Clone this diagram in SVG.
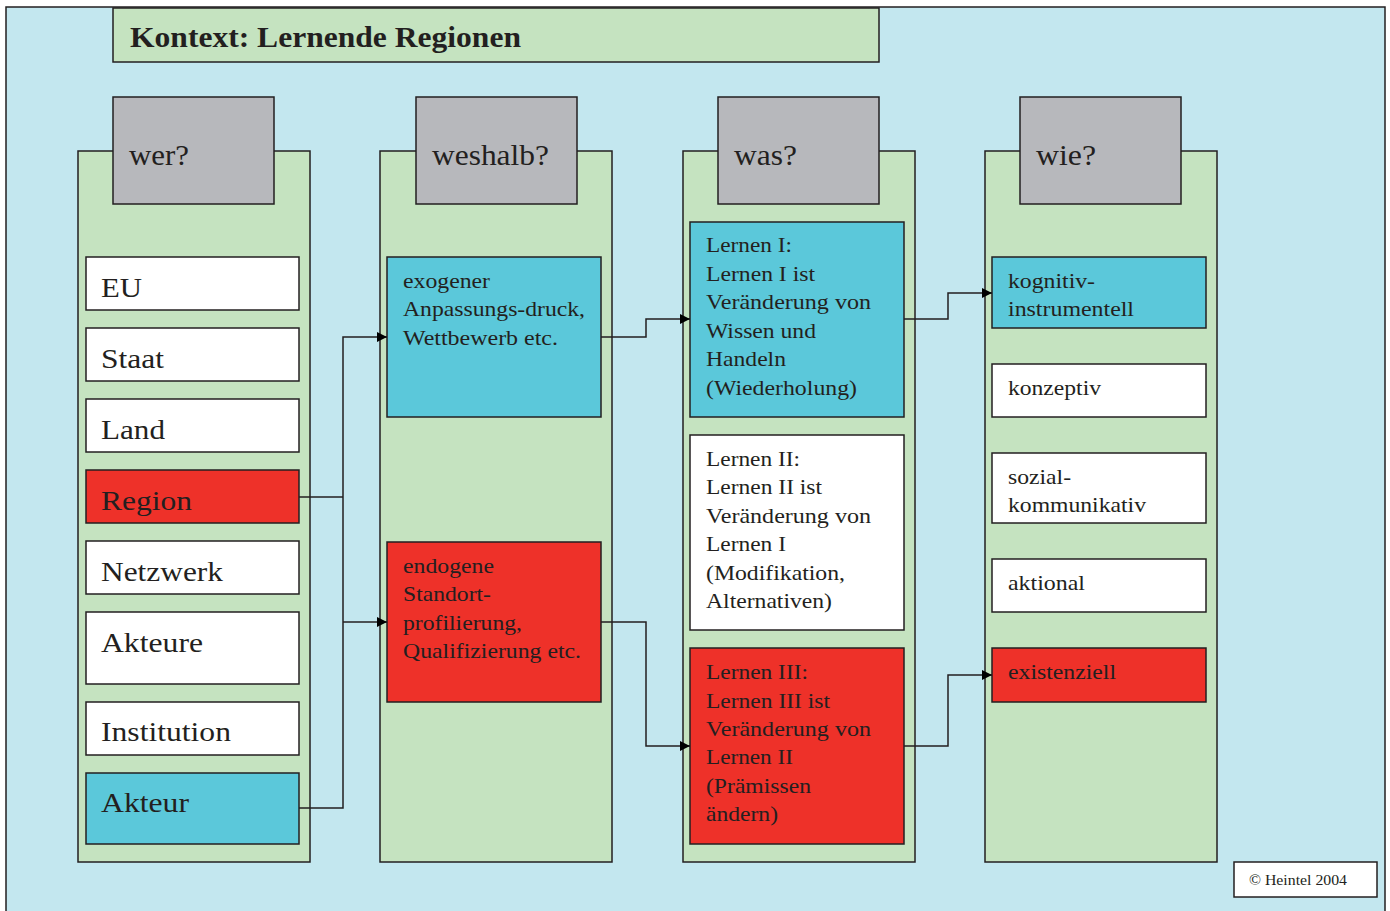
<svg xmlns="http://www.w3.org/2000/svg" width="1390" height="911" viewBox="0 0 1390 911">
<defs>
<style>
.bg{fill:#C3E7EF;stroke:#231F20;stroke-width:1.5}
.col{fill:#C5E3C0;stroke:#231F20;stroke-width:1.5}
.hdr{fill:#B7B8BC;stroke:#231F20;stroke-width:1.5}
.w{fill:#FFFFFF;stroke:#231F20;stroke-width:1.5}
.c{fill:#5BC8DA;stroke:#231F20;stroke-width:1.5}
.r{fill:#EE3129;stroke:#231F20;stroke-width:1.5}
text{font-family:"Liberation Serif","Times New Roman",serif;fill:#231F20}
.t{font-size:30px;font-weight:bold}
.h{font-size:30px}
.b{font-size:28px}
.s{font-size:21.5px}
.cp{font-size:14px}
.ln{fill:none;stroke:#231F20;stroke-width:1.5}
</style>
<marker id="ah" viewBox="0 0 10 10" refX="10" refY="5" markerWidth="10" markerHeight="10" markerUnits="userSpaceOnUse" orient="auto">
<path d="M0,0 L10,5 L0,10 Z" fill="#000"/>
</marker>
</defs>
<rect class="bg" x="6" y="7" width="1379" height="912"/>
<g id="title">
<rect class="col" x="113" y="8" width="766" height="54"/>
<text class="t" x="130" y="47" textLength="391" lengthAdjust="spacingAndGlyphs">Kontext: Lernende Regionen</text>
</g>
<g id="col-wer">
<rect class="col" x="78" y="151" width="232" height="711"/>
<rect class="hdr" x="113" y="97" width="161" height="107"/>
<text class="h" x="129" y="165" textLength="60" lengthAdjust="spacingAndGlyphs">wer?</text>
</g>
<g id="col-weshalb">
<rect class="col" x="380" y="151" width="232" height="711"/>
<rect class="hdr" x="416" y="97" width="161" height="107"/>
<text class="h" x="432" y="165" textLength="117" lengthAdjust="spacingAndGlyphs">weshalb?</text>
</g>
<g id="col-was">
<rect class="col" x="683" y="151" width="232" height="711"/>
<rect class="hdr" x="718" y="97" width="161" height="107"/>
<text class="h" x="734" y="165" textLength="63" lengthAdjust="spacingAndGlyphs">was?</text>
</g>
<g id="col-wie">
<rect class="col" x="985" y="151" width="232" height="711"/>
<rect class="hdr" x="1020" y="97" width="161" height="107"/>
<text class="h" x="1036" y="165" textLength="60" lengthAdjust="spacingAndGlyphs">wie?</text>
</g>
<g id="n-eu"><rect class="w" x="86" y="257" width="213" height="53"/><text class="b" x="101" y="297" textLength="41" lengthAdjust="spacingAndGlyphs">EU</text></g>
<g id="n-staat"><rect class="w" x="86" y="328" width="213" height="53"/><text class="b" x="101" y="368" textLength="63" lengthAdjust="spacingAndGlyphs">Staat</text></g>
<g id="n-land"><rect class="w" x="86" y="399" width="213" height="53"/><text class="b" x="101" y="439" textLength="64" lengthAdjust="spacingAndGlyphs">Land</text></g>
<g id="n-region"><rect class="r" x="86" y="470" width="213" height="53"/><text class="b" x="101" y="510" textLength="91" lengthAdjust="spacingAndGlyphs">Region</text></g>
<g id="n-netzwerk"><rect class="w" x="86" y="541" width="213" height="53"/><text class="b" x="101" y="581" textLength="122" lengthAdjust="spacingAndGlyphs">Netzwerk</text></g>
<g id="n-akteure"><rect class="w" x="86" y="612" width="213" height="72"/><text class="b" x="101" y="652" textLength="102" lengthAdjust="spacingAndGlyphs">Akteure</text></g>
<g id="n-institution"><rect class="w" x="86" y="702" width="213" height="53"/><text class="b" x="101" y="741" textLength="130" lengthAdjust="spacingAndGlyphs">Institution</text></g>
<g id="n-akteur"><rect class="c" x="86" y="773" width="213" height="71"/><text class="b" x="101" y="812" textLength="88" lengthAdjust="spacingAndGlyphs">Akteur</text></g>
<g id="n-exogen"><rect class="c" x="387" y="257" width="214" height="160"/>
<text class="s" x="403" y="288" textLength="87" lengthAdjust="spacingAndGlyphs">exogener</text><text class="s" x="403" y="316" textLength="182" lengthAdjust="spacingAndGlyphs">Anpassungs-druck,</text><text class="s" x="403" y="345" textLength="155" lengthAdjust="spacingAndGlyphs">Wettbewerb etc.</text></g>
<g id="n-endogen"><rect class="r" x="387" y="542" width="214" height="160"/>
<text class="s" x="403" y="573" textLength="91" lengthAdjust="spacingAndGlyphs">endogene</text><text class="s" x="403" y="601" textLength="88" lengthAdjust="spacingAndGlyphs">Standort-</text><text class="s" x="403" y="630" textLength="119" lengthAdjust="spacingAndGlyphs">profilierung,</text><text class="s" x="403" y="658" textLength="178" lengthAdjust="spacingAndGlyphs">Qualifizierung etc.</text></g>
<g id="n-lernen1"><rect class="c" x="690" y="222" width="214" height="195"/>
<text class="s" x="706" y="252" textLength="86" lengthAdjust="spacingAndGlyphs">Lernen I:</text><text class="s" x="706" y="281" textLength="109" lengthAdjust="spacingAndGlyphs">Lernen I ist</text><text class="s" x="706" y="309" textLength="165" lengthAdjust="spacingAndGlyphs">Veränderung von</text><text class="s" x="706" y="338" textLength="110" lengthAdjust="spacingAndGlyphs">Wissen und</text><text class="s" x="706" y="366" textLength="80" lengthAdjust="spacingAndGlyphs">Handeln</text><text class="s" x="706" y="395" textLength="151" lengthAdjust="spacingAndGlyphs">(Wiederholung)</text></g>
<g id="n-lernen2"><rect class="w" x="690" y="435" width="214" height="195"/>
<text class="s" x="706" y="466" textLength="94" lengthAdjust="spacingAndGlyphs">Lernen II:</text><text class="s" x="706" y="494" textLength="116" lengthAdjust="spacingAndGlyphs">Lernen II ist</text><text class="s" x="706" y="523" textLength="165" lengthAdjust="spacingAndGlyphs">Veränderung von</text><text class="s" x="706" y="551" textLength="80" lengthAdjust="spacingAndGlyphs">Lernen I</text><text class="s" x="706" y="580" textLength="139" lengthAdjust="spacingAndGlyphs">(Modifikation,</text><text class="s" x="706" y="608" textLength="126" lengthAdjust="spacingAndGlyphs">Alternativen)</text></g>
<g id="n-lernen3"><rect class="r" x="690" y="648" width="214" height="196"/>
<text class="s" x="706" y="679" textLength="102" lengthAdjust="spacingAndGlyphs">Lernen III:</text><text class="s" x="706" y="708" textLength="124" lengthAdjust="spacingAndGlyphs">Lernen III ist</text><text class="s" x="706" y="736" textLength="165" lengthAdjust="spacingAndGlyphs">Veränderung von</text><text class="s" x="706" y="764" textLength="87" lengthAdjust="spacingAndGlyphs">Lernen II</text><text class="s" x="706" y="793" textLength="105" lengthAdjust="spacingAndGlyphs">(Prämissen</text><text class="s" x="706" y="821" textLength="72" lengthAdjust="spacingAndGlyphs">ändern)</text></g>
<g id="n-kognitiv"><rect class="c" x="992" y="257" width="214" height="71"/>
<text class="s" x="1008" y="288" textLength="87" lengthAdjust="spacingAndGlyphs">kognitiv-</text><text class="s" x="1008" y="316" textLength="126" lengthAdjust="spacingAndGlyphs">instrumentell</text></g>
<g id="n-konzeptiv"><rect class="w" x="992" y="364" width="214" height="53"/><text class="s" x="1008" y="395" textLength="93" lengthAdjust="spacingAndGlyphs">konzeptiv</text></g>
<g id="n-sozial"><rect class="w" x="992" y="453" width="214" height="70"/>
<text class="s" x="1008" y="484" textLength="63" lengthAdjust="spacingAndGlyphs">sozial-</text><text class="s" x="1008" y="512" textLength="138" lengthAdjust="spacingAndGlyphs">kommunikativ</text></g>
<g id="n-aktional"><rect class="w" x="992" y="559" width="214" height="53"/><text class="s" x="1008" y="590" textLength="77" lengthAdjust="spacingAndGlyphs">aktional</text></g>
<g id="n-existenziell"><rect class="r" x="992" y="648" width="214" height="54"/><text class="s" x="1008" y="679" textLength="108" lengthAdjust="spacingAndGlyphs">existenziell</text></g>
<g id="connectors">
<path class="ln" d="M299,497 H343"/>
<path class="ln" d="M299,808 H343 V337 H387" marker-end="url(#ah)"/>
<path class="ln" d="M343,622 H387" marker-end="url(#ah)"/>
<path class="ln" d="M601,337 H646 V319 H690" marker-end="url(#ah)"/>
<path class="ln" d="M601,622 H646 V746 H690" marker-end="url(#ah)"/>
<path class="ln" d="M904,319 H948 V293 H992" marker-end="url(#ah)"/>
<path class="ln" d="M904,746 H948 V675 H992" marker-end="url(#ah)"/>
</g>
<g id="copyright">
<rect class="w" x="1234" y="862" width="143" height="35"/>
<text class="cp" x="1249" y="885" textLength="98" lengthAdjust="spacingAndGlyphs">© Heintel 2004</text>
</g>
</svg>
